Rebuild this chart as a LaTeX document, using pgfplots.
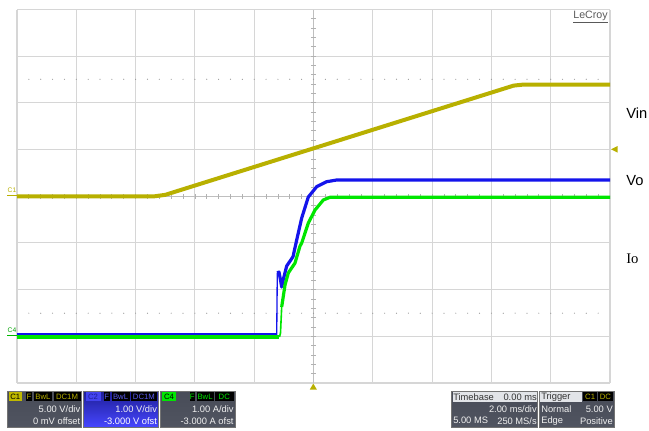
\documentclass[border=0pt]{standalone}
\usepackage{pgfplots}
\pgfplotsset{compat=1.18}
\usepackage{fontspec}
\setmainfont{Liberation Sans}
\newfontfamily\seriffont{Liberation Serif}
\definecolor{cyel}{RGB}{184,176,0}
\definecolor{cblue}{RGB}{20,20,235}
\definecolor{cgreen}{RGB}{0,230,0}
\definecolor{gridc}{RGB}{214,214,214}
\definecolor{boxa}{RGB}{72,76,88}
\definecolor{boxb}{RGB}{108,112,124}
\definecolor{boxc}{RGB}{80,84,96}
\definecolor{bluea}{RGB}{30,30,150}
\definecolor{blueb}{RGB}{40,40,200}
\definecolor{bluec}{RGB}{70,70,255}
\definecolor{hdr}{RGB}{226,228,232}
\definecolor{txt}{RGB}{240,240,240}
\newcommand{\fs}{\fontsize{7}{8}\selectfont}
\newcommand{\ft}{\fontsize{5.8}{6}\selectfont}
\begin{document}
\begin{tikzpicture}[x=0.75pt,y=-0.75pt]
\path (0,0) rectangle (649,430);
% grid
\foreach \i in {0,...,10} \draw[gridc, line width=0.8pt] ({17+59.3*\i},9.5) -- ({17+59.3*\i},383);
\foreach \j in {0,...,8} \draw[gridc, line width=0.8pt] (17,{9.5+46.6875*\j}) -- (610,{9.5+46.6875*\j});
\draw[black!25, line width=0.8pt] (313.5,9.5) -- (313.5,383);
\draw[black!25, line width=0.8pt] (17,196.25) -- (610,196.25);
\foreach \k in {1,...,39} \draw[black!30, line width=0.6pt] (311,{9.5+9.3375*\k}) -- (316,{9.5+9.3375*\k});
\foreach \k in {1,...,49} \draw[black!30, line width=0.6pt] ({17+11.86*\k},194) -- ({17+11.86*\k},198.5);
\foreach \k in {1,...,49} {
  \fill[black!40] ({17+11.86*\k},79.3) circle (0.6);
  \fill[black!40] ({17+11.86*\k},313.2) circle (0.6);
}
\begin{axis}[at={(12.75pt,-7.125pt)}, anchor=north west, width=444.75pt, height=280.125pt,
  scale only axis, xmin=-10, xmax=10, ymin=-4, ymax=4, hide axis, clip=true]
% C1 Vin (divisions, 5 V/div)
\addplot[cyel, line width=3pt, line join=round] coordinates {
(-10,0) (-5.35,0) (-5.0,0.03) (-4.6,0.11) (6.75,2.37) (7.05,2.39) (10,2.39)};
% C2 Vo (1 V/div, offset -3 div)
\addplot[cblue, line width=2.6pt, line join=round] coordinates {
(-10,-2.972) (-1.241,-2.972)};
\addplot[cblue, line width=1pt] coordinates {
(-1.241,-2.972) (-1.221,-1.644)};
\addplot[cblue, line width=2.4pt, line join=round] coordinates {
(-1.221,-1.644) (-1.164,-1.622) (-1.113,-1.794) (-1.073,-1.944) (-1.039,-1.837)
(-0.904,-1.494) (-0.691,-1.295) (-0.567,-0.937) (-0.398,-0.466) (-0.175,-0.016)
(0.108,0.205) (0.445,0.312) (0.782,0.348) (10,0.348)};
% C4 Io (1 A/div, offset -3 div)
\addplot[cgreen, line width=2.6pt, line join=round] coordinates {
(-10,-3.015) (-1.147,-3.015)};
\addplot[cgreen, line width=1.2pt] coordinates {
(-1.147,-3.015) (-1.113,-2.929) (-1.073,-2.372)};
\addplot[cgreen, line width=2.4pt, line join=round] coordinates {
(-1.073,-2.372) (-0.961,-1.901) (-0.850,-1.644) (-0.624,-1.430) (-0.455,-1.066)
(-0.398,-1.002) (-0.175,-0.573) (0.051,-0.295) (0.331,-0.080) (0.556,-0.022)
(0.894,-0.022) (10,-0.022)};
\end{axis}
% LeCroy
\node[anchor=east, inner sep=0, text=black!65, font=\fontsize{8}{9}\selectfont] at (608,17) {\underline{LeCroy}};
% channel labels
\node[anchor=west, inner sep=0, font=\fontsize{11}{13}\selectfont] at (626,113) {Vin};
\node[anchor=west, inner sep=0, font=\fontsize{11}{13}\selectfont] at (626,181) {Vo};
\node[anchor=west, inner sep=0, font=\seriffont\fontsize{11}{13}\selectfont] at (626,259) {Io};
% ground markers
\node[inner sep=0, text=cyel, font=\fontsize{5}{5}\selectfont] at (12,190) {C1};
\draw[cyel, line width=0.8pt] (7,195.5) -- (17,195.5);
\node[inner sep=0, text=cgreen!70!black, font=\fontsize{5}{5}\selectfont] at (12,330) {C4};
\draw[cgreen!80!black, line width=0.8pt] (7,335.5) -- (17,335.5);
% trigger markers
\fill[cyel] (309.8,389.5) -- (316.8,389.5) -- (313.3,383.5) -- cycle;
\fill[cyel] (611,149.3) -- (617.5,146) -- (617.5,152.6) -- cycle;
% C1 box
\shade[top color=boxa, middle color=boxb, bottom color=boxc] (7.5,391) rectangle (81.5,427);
\draw[black!55, line width=0.6pt] (7.5,391) rectangle (81.5,427);
\fill[cyel!90!yellow] (8.7,392.3) rectangle (22,401);
\node[inner sep=0, font=\ft, text=black] at (15.35,396.7) {C1};
\fill[black] (26.2,392.3) rectangle (32,401);
\node[inner sep=0, font=\ft, text=cyel] at (29.1,396.7) {F};
\fill[black] (34,392.3) rectangle (52,401);
\node[inner sep=0, font=\ft, text=cyel] at (43,396.7) {BwL};
\fill[black] (53.5,392.3) rectangle (80.5,401);
\node[inner sep=0, font=\ft, text=cyel] at (67,396.7) {DC1M};
\node[anchor=east, inner sep=0, font=\fs, text=txt] at (80.5,409.5) {5.00 V/div};
\node[anchor=east, inner sep=0, font=\fs, text=txt] at (80.5,420.7) {0 mV offset};
% C2 box
\shade[top color=bluea, middle color=blueb, bottom color=bluec] (83.3,391) rectangle (158.3,427);
\draw[black!55, line width=0.6pt] (83.3,391) rectangle (158.3,427);
\fill[cblue!80!white] (85.5,392.3) rectangle (100.7,401);
\node[inner sep=0, font=\ft, text=bluea] at (93.1,396.7) {C2};
\fill[black] (103.8,392.3) rectangle (109.6,401);
\node[inner sep=0, font=\ft, text=cblue!70!white] at (106.7,396.7) {F};
\fill[black] (111.6,392.3) rectangle (129.6,401);
\node[inner sep=0, font=\ft, text=cblue!70!white] at (120.6,396.7) {BwL};
\fill[black] (130.6,392.3) rectangle (157.2,401);
\node[inner sep=0, font=\ft, text=cblue!70!white] at (143.9,396.7) {DC1M};
\node[anchor=east, inner sep=0, font=\fs, text=txt] at (157.2,409.5) {1.00 V/div};
\node[anchor=east, inner sep=0, font=\fs, text=white] at (157.2,420.7) {-3.000 V ofst};
% C4 box
\shade[top color=boxa, middle color=boxb, bottom color=boxc] (160.3,391) rectangle (235,427);
\draw[black!55, line width=0.6pt] (160.3,391) rectangle (235,427);
\fill[cgreen] (162,392.3) rectangle (176,401);
\node[inner sep=0, font=\ft, text=black] at (169,396.7) {C4};
\fill[black] (189.5,392.3) rectangle (195,401);
\node[inner sep=0, font=\ft, text=cgreen] at (192.25,396.7) {F};
\fill[black] (196.6,392.3) rectangle (213.6,401);
\node[inner sep=0, font=\ft, text=cgreen] at (205.1,396.7) {BwL};
\fill[black] (214.8,392.3) rectangle (233.8,401);
\node[inner sep=0, font=\ft, text=cgreen] at (224.3,396.7) {DC};
\node[anchor=east, inner sep=0, font=\fs, text=txt] at (233.8,409.5) {1.00 A/div};
\node[anchor=east, inner sep=0, font=\fs, text=txt] at (233.8,420.7) {-3.000 A ofst};
% Timebase box
\shade[top color=boxa, middle color=boxb, bottom color=boxc] (451.7,391) rectangle (537.7,427);
\draw[black!55, line width=0.6pt] (451.7,391) rectangle (537.7,427);
\fill[hdr] (452.5,392.1) rectangle (536.9,401.5);
\node[anchor=west, inner sep=0, font=\fs, text=black!80] at (453,396.8) {Timebase};
\node[anchor=east, inner sep=0, font=\fs, text=black!80] at (537,396.8) {0.00 ms};
\node[anchor=east, inner sep=0, font=\fs, text=txt] at (537,409.5) {2.00 ms/div};
\node[anchor=west, inner sep=0, font=\fs, text=txt] at (453,420.7) {5.00 MS};
\node[anchor=east, inner sep=0, font=\fs, text=txt] at (537,420.7) {250 MS/s};
% Trigger box
\shade[top color=boxa, middle color=boxb, bottom color=boxc] (539.3,391) rectangle (614,427);
\draw[black!55, line width=0.6pt] (539.3,391) rectangle (614,427);
\fill[hdr] (540.1,392.1) rectangle (582.3,401.5);
\node[anchor=west, inner sep=0, font=\fs, text=black!80] at (541,396.8) {Trigger};
\fill[black] (583.3,392.3) rectangle (597,401);
\node[inner sep=0, font=\ft, text=cyel] at (590.15,396.7) {C1};
\fill[black] (597.7,392.3) rectangle (613,401);
\node[inner sep=0, font=\ft, text=cyel] at (605.35,396.7) {DC};
\node[anchor=west, inner sep=0, font=\fs, text=txt] at (541,409.5) {Normal};
\node[anchor=east, inner sep=0, font=\fs, text=txt] at (613,409.5) {5.00 V};
\node[anchor=west, inner sep=0, font=\fs, text=txt] at (541,420.7) {Edge};
\node[anchor=east, inner sep=0, font=\fs, text=txt] at (613,420.7) {Positive};
\end{tikzpicture}
\end{document}
